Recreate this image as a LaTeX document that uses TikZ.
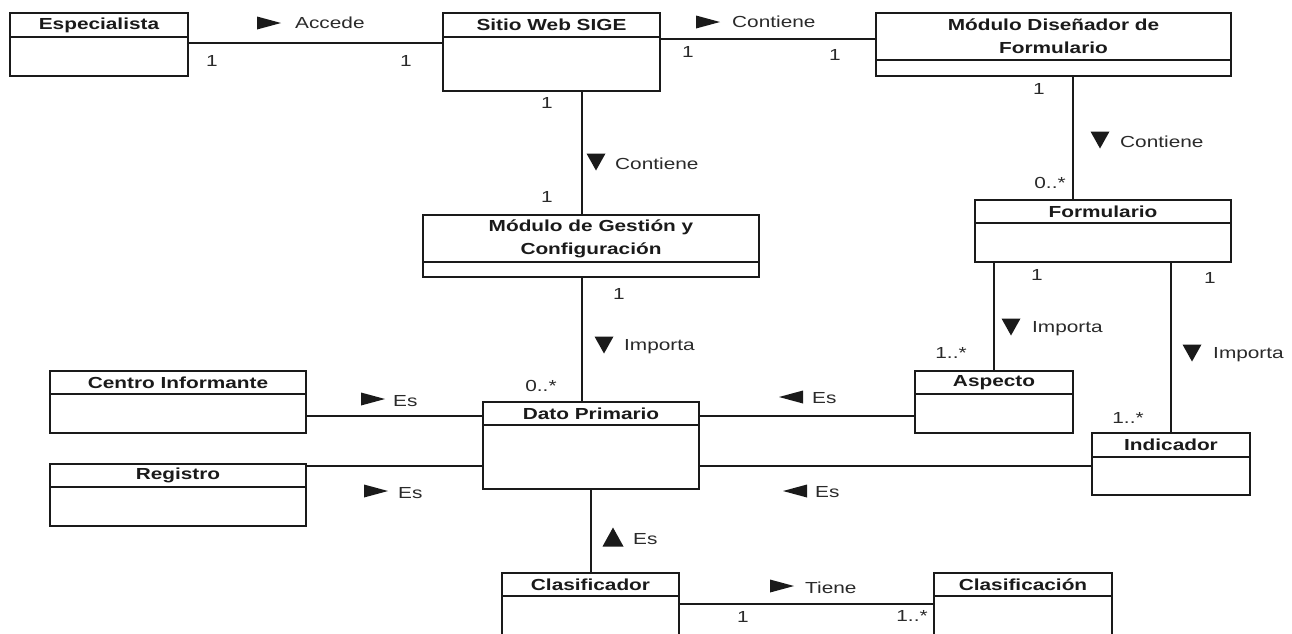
\documentclass[tikz,border=0pt]{standalone}
\usepackage{fontspec}
\setmainfont{Liberation Sans}[FakeStretch=1.3]
\usetikzlibrary{calc}
\definecolor{ink}{HTML}{1A1A1A}
\definecolor{txt}{HTML}{2A2A2A}

\tikzset{
  classbox/.style={draw=ink, line width=1.5pt, inner sep=0pt, outer sep=0pt, anchor=north west},
  sepline/.style={draw=ink, line width=1.5pt},
  classtitle/.style={font=\bfseries\fontsize{16}{23}\selectfont, text=ink, align=center, inner sep=0pt},
  assoc/.style={draw=ink, line width=1.5pt},
  role/.style={font=\fontsize{16}{18}\selectfont, text=txt, inner sep=0pt, anchor=west},
  mult/.style={font=\fontsize{16}{18}\selectfont, text=txt, inner sep=0pt},
  pics/triR/.style={code={\fill[ink] (-12,-6.5) -- (12,0) -- (-12,6.5) -- cycle;}},
  pics/triL/.style={code={\fill[ink] (12,-6.5) -- (-12,0) -- (12,6.5) -- cycle;}},
  pics/triD/.style={code={\fill[ink] (-9.5,-8.5) -- (9.5,-8.5) -- (0,8.5) -- cycle;}},
  pics/triU/.style={code={\fill[ink] (-10.5,9.5) -- (10.5,9.5) -- (0,-9.5) -- cycle;}},
}

% UML class: name, left, top, right, separator, bottom, title
\newcommand\umlclass[7]{%
  \node[classbox, minimum width={#4-#2}, minimum height={#6-#3}] (#1) at (#2,#3) {};
  \draw[sepline] (#2,#5) -- (#4,#5);
  \node[classtitle] (#1-title) at ({(#2+#4)/2},{(#3+#5)/2}) {#7};
}

\begin{document}
\begin{tikzpicture}[x=1pt, y=-1pt]
\useasboundingbox (0,0) rectangle (1292,633);
\fill[white] (0,0) rectangle (1292,633);
\clip (0,0) rectangle (1292,633);

% classes
\umlclass{esp}{10}{13}{188}{37}{76}{Especialista}
\umlclass{sige}{443}{13}{660}{37}{91}{Sitio Web SIGE}
\umlclass{dis}{876}{13}{1231}{60}{76}{Módulo Diseñador de\\Formulario}
\umlclass{ges}{423}{215}{759}{262}{277}{Módulo de Gestión y\\Configuración}
\umlclass{form}{975}{200}{1231}{223}{262}{Formulario}
\umlclass{cen}{50}{371}{306}{394}{433}{Centro Informante}
\umlclass{reg}{50}{464}{306}{487}{526}{Registro}
\umlclass{dp}{483}{402}{699}{425}{489}{Dato Primario}
\umlclass{asp}{915}{371}{1073}{394}{433}{Aspecto}
\umlclass{ind}{1092}{433}{1250}{457}{495}{Indicador}
\umlclass{clr}{502}{573}{679}{596}{660}{Clasificador}
\umlclass{cln}{934}{573}{1112}{596}{660}{Clasificación}

% associations
\draw[assoc] ([yshift=1.5pt]esp.east) -- ([yshift=1.5pt]esp.east -| sige.west);
\draw[assoc] ([yshift=5.5pt]dis.west) -- ([yshift=5.5pt]dis.west -| sige.east);
\draw[assoc] ([xshift=-9pt]ges.north) -- ([xshift=-9pt]ges.north |- sige.south);
\draw[assoc] ([xshift=-30pt]form.north) -- ([xshift=-30pt]form.north |- dis.south);
\draw[assoc] ([xshift=-9pt]dp.north) -- ([xshift=-9pt]dp.north |- ges.south);
\draw[assoc] (asp.north) -- (asp.north |- form.south);
\draw[assoc] (ind.north) -- (ind.north |- form.south);
\draw[assoc] ([yshift=-14pt]cen.east) -- ([yshift=-14pt]cen.east -| dp.west);
\draw[assoc] ([yshift=-2pt]reg.north east) -- ([yshift=-2pt]reg.north east -| dp.west);
\draw[assoc] ([yshift=-14pt]asp.west) -- ([yshift=-14pt]asp.west -| dp.east);
\draw[assoc] ([yshift=-2pt]ind.west) -- ([yshift=-2pt]ind.west -| dp.east);
\draw[assoc] (dp.south) -- (dp.south |- clr.north);
\draw[assoc] ([yshift=-31pt]clr.north east) -- ([yshift=-31pt]clr.north east -| cln.west);

% association names with reading direction
\pic at (269,23) {triR};  \node[role] (l-accede) at (295,23) {Accede};
\pic at (708,22) {triR};  \node[role] (l-cont1) at (732,22) {Contiene};
\pic at (596,162) {triD}; \node[role] (l-cont2) at (615,164) {Contiene};
\pic at (1100,140) {triD}; \node[role] (l-cont3) at (1120,142) {Contiene};
\pic at (604,345) {triD}; \node[role] (l-imp1) at (624,347) {Importa};
\pic at (1011,327) {triD}; \node[role] (l-imp2) at (1032,329) {Importa};
\pic at (1192,353) {triD}; \node[role] (l-imp3) at (1213,355) {Importa};
\pic at (373,399) {triR}; \node[role] (l-es1) at (393,401) {Es};
\pic at (376,491) {triR}; \node[role] (l-es2) at (398,493) {Es};
\pic at (791,397) {triL}; \node[role] (l-es3) at (812,398) {Es};
\pic at (795,491) {triL}; \node[role] (l-es4) at (815,492) {Es};
\pic at (613,537) {triU}; \node[role] (l-es5) at (633,539) {Es};
\pic at (782,586) {triR}; \node[role] (l-tiene) at (805,588) {Tiene};

% multiplicities
\node[mult] (m1) at (212,61) {1};
\node[mult] (m2) at (406,61) {1};
\node[mult] (m3) at (688,52) {1};
\node[mult] (m4) at (835,55) {1};
\node[mult] (m5) at (547,103) {1};
\node[mult] (m6) at (547,197) {1};
\node[mult] (m7) at (1039,89) {1};
\node[mult] (m8) at (1050,183) {0..*};
\node[mult] (m9) at (619,294) {1};
\node[mult] (m10) at (541,386) {0..*};
\node[mult] (m11) at (1037,275) {1};
\node[mult] (m12) at (951,353) {1..*};
\node[mult] (m13) at (1210,278) {1};
\node[mult] (m14) at (1128,418) {1..*};
\node[mult] (m15) at (743,617) {1};
\node[mult] (m16) at (912,616) {1..*};
\end{tikzpicture}
\end{document}
